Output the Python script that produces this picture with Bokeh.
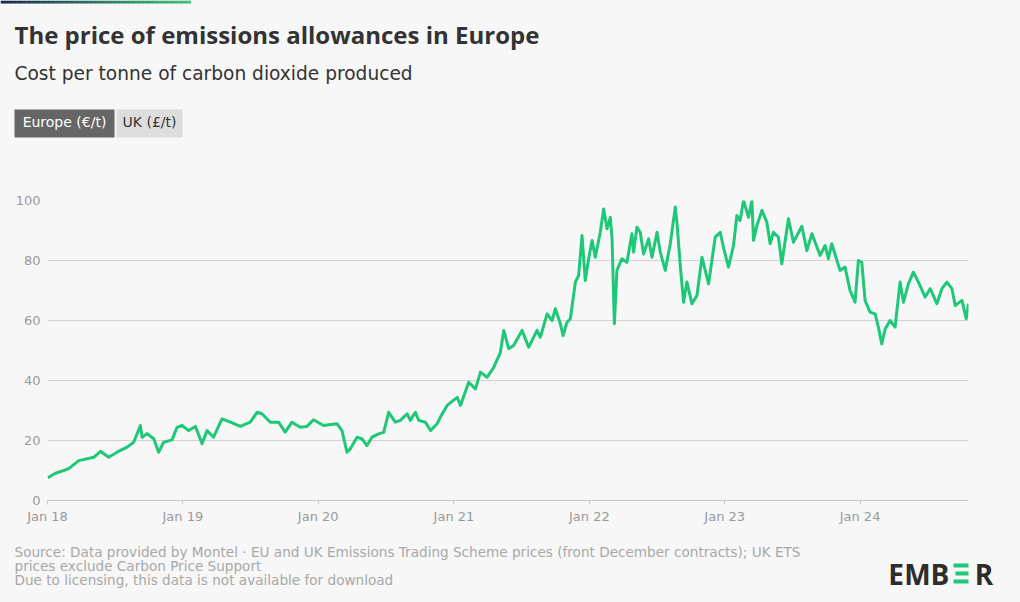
import datetime as dt
from bokeh.plotting import figure
from bokeh.layouts import column, row
from bokeh.models import ColumnDataSource, FixedTicker, Range1d
from bokeh.core.properties import value
from bokeh.embed import file_html
from bokeh.resources import INLINE

# ---------------- data ----------------
date_years = [
    2018.002, 2018.059, 2018.120, 2018.157, 2018.231, 2018.293, 2018.342, 2018.391, 2018.452, 2018.514,
    2018.588, 2018.637, 2018.686, 2018.699, 2018.736, 2018.785, 2018.821, 2018.858, 2018.920, 2018.957,
    2018.994, 2019.043, 2019.092, 2019.142, 2019.179, 2019.227, 2019.289, 2019.351, 2019.424, 2019.498,
    2019.548, 2019.584, 2019.646, 2019.707, 2019.756, 2019.806, 2019.867, 2019.917, 2019.965, 2020.039,
    2020.138, 2020.175, 2020.212, 2020.236, 2020.286, 2020.323, 2020.359, 2020.396, 2020.445, 2020.482,
    2020.519, 2020.568, 2020.605, 2020.655, 2020.679, 2020.716, 2020.740, 2020.790, 2020.827, 2020.876,
    2020.900, 2020.950, 2021.024, 2021.048, 2021.109, 2021.159, 2021.196, 2021.245, 2021.294, 2021.343,
    2021.368, 2021.404, 2021.441, 2021.503, 2021.552, 2021.614, 2021.638, 2021.688, 2021.725, 2021.749,
    2021.786, 2021.806, 2021.835, 2021.860, 2021.897, 2021.921, 2021.946, 2021.970, 2021.995, 2022.020,
    2022.044, 2022.081, 2022.106, 2022.131, 2022.155, 2022.168, 2022.185, 2022.204, 2022.241, 2022.278,
    2022.315, 2022.327, 2022.352, 2022.376, 2022.401, 2022.438, 2022.463, 2022.500, 2022.524, 2022.561,
    2022.598, 2022.635, 2022.647, 2022.672, 2022.696, 2022.721, 2022.758, 2022.795, 2022.832, 2022.881,
    2022.930, 2022.967, 2022.991, 2023.028, 2023.065, 2023.090, 2023.114, 2023.139, 2023.176, 2023.201,
    2023.213, 2023.238, 2023.275, 2023.311, 2023.336, 2023.360, 2023.397, 2023.422, 2023.471, 2023.508,
    2023.570, 2023.607, 2023.644, 2023.705, 2023.742, 2023.766, 2023.791, 2023.852, 2023.889, 2023.926,
    2023.963, 2023.988, 2024.013, 2024.037, 2024.074, 2024.111, 2024.135, 2024.160, 2024.185, 2024.221,
    2024.258, 2024.295, 2024.320, 2024.356, 2024.393, 2024.430, 2024.480, 2024.517, 2024.566, 2024.603,
    2024.640, 2024.677, 2024.701, 2024.751, 2024.782, 2024.799,
]
europe_prices = [
    7.6, 9.1, 10.0, 10.6, 13.3, 13.9, 14.4, 16.4, 14.4, 16.1,
    17.8, 19.4, 25.0, 21.1, 22.3, 20.6, 16.1, 19.4, 20.2, 24.4,
    25.0, 23.3, 24.7, 18.9, 23.3, 21.1, 27.2, 26.1, 24.7, 26.1,
    29.4, 28.9, 26.1, 26.1, 22.8, 26.1, 24.4, 24.7, 26.9, 25.0,
    25.6, 23.3, 16.1, 17.2, 21.1, 20.5, 18.3, 21.1, 22.2, 22.7,
    29.4, 26.1, 26.7, 28.9, 26.7, 29.4, 26.7, 26.1, 23.3, 25.6,
    27.8, 31.7, 34.4, 31.7, 39.4, 37.2, 42.8, 41.1, 44.4, 49.4,
    56.7, 50.6, 51.7, 56.7, 51.1, 56.7, 54.4, 62.2, 60.0, 63.9,
    58.9, 55.0, 59.4, 60.6, 72.8, 75.0, 88.3, 73.3, 80.6, 86.7,
    81.1, 89.4, 97.2, 90.6, 94.4, 87.2, 58.9, 76.7, 80.6, 79.4,
    88.9, 82.8, 91.1, 89.4, 82.2, 87.2, 81.1, 89.4, 82.8, 76.7,
    85.6, 97.8, 92.8, 78.3, 66.1, 72.8, 65.6, 68.3, 81.1, 72.2,
    87.8, 89.4, 84.4, 77.8, 85.0, 95.0, 93.3, 100.0, 94.4, 100.0,
    86.7, 91.7, 96.7, 92.8, 85.6, 89.4, 87.8, 78.9, 93.9, 86.1,
    91.4, 83.3, 88.9, 81.7, 85.0, 80.6, 85.6, 76.7, 77.8, 70.0,
    66.1, 80.0, 79.4, 66.7, 62.8, 62.2, 57.8, 52.2, 57.2, 60.0,
    57.8, 72.8, 66.1, 72.2, 76.1, 72.8, 67.8, 70.6, 65.6, 70.6,
    72.8, 70.6, 65.0, 66.7, 60.6, 65.6,
]
tick_years = [2018, 2019, 2020, 2021, 2022, 2023, 2024]
tick_labels = ["Jan 18", "Jan 19", "Jan 20", "Jan 21", "Jan 22", "Jan 23", "Jan 24"]
y_ticks = [0, 20, 40, 60, 80, 100]

title = "The price of emissions allowances in Europe"
subtitle = "Cost per tonne of carbon dioxide produced"
buttons = ["Europe (€/t)", "UK (£/t)"]
footer = [
    "Source: Data provided by Montel · EU and UK Emissions Trading Scheme prices (front December contracts); UK ETS",
    "prices exclude Carbon Price Support",
    "Due to licensing, this data is not available for download",
]
logo_letters = ["E", "M", "B", "R"]

assert len(date_years) == len(europe_prices)

# ---------------- helpers ----------------
EPOCH = dt.datetime(1970, 1, 1)


def year_to_dt(y):
    yr = int(y)
    a = dt.datetime(yr, 1, 1)
    b = dt.datetime(yr + 1, 1, 1)
    return a + (b - a) * (y - yr)


def to_ms(d):
    return (d - EPOCH).total_seconds() * 1000.0


dates = [year_to_dt(y) for y in date_years]
tick_ms = [to_ms(dt.datetime(y, 1, 1)) for y in tick_years]

BG = "#f7f7f7"
GREEN = "#1ec878"
GRID = "#d2d2d2"
TICK_TXT = "#9a9a9a"
FONT = "DejaVu Sans"

W = 1020
HEAD_H, CHART_H, FOOT_H = 160, 380, 62


def blank(height, y0):
    """A figure whose frame fills the canvas, in page pixels (y downwards)."""
    f = figure(width=W, height=height, output_backend="svg", toolbar_location=None,
               x_range=Range1d(0, W), y_range=Range1d(y0 + height, y0),
               min_border=0, min_border_left=0, min_border_right=0,
               min_border_top=0, min_border_bottom=0,
               background_fill_color=BG, border_fill_color=BG,
               outline_line_color=None)
    f.axis.visible = False
    f.grid.visible = False
    return f


def put_text(f, t, x, y, size, color, font=FONT, style="normal", align="left"):
    # y is the vertical centre of the text line
    f.text(x=[x], y=[y], text=[t], text_font=value(font),
           text_font_size=value(f"{size}px"), text_color=color,
           text_font_style=value(style), text_align=value(align),
           text_baseline=value("middle"))


# ---------------- header ----------------
head = blank(HEAD_H, 0)
c0 = (0x1b, 0x2b, 0x4e)
c1 = (0x3f, 0xc0, 0x78)
n = 40
lefts, rights, cols = [], [], []
for i in range(n):
    fr = i / (n - 1)
    cols.append("#%02x%02x%02x" % tuple(int(a + (b - a) * fr) for a, b in zip(c0, c1)))
    lefts.append(i * 190 / n)
    rights.append((i + 1) * 190 / n + 0.6)
head.quad(left=lefts, right=rights, top=[0] * n, bottom=[3] * n, fill_color=cols,
          line_color=None)

put_text(head, title, 14, 34, 24, "#333333", font="Open Sans", style="bold")
put_text(head, subtitle, 14, 72.5, 18.6, "#333333")

head.quad(left=[14, 116], right=[114, 182], top=[109, 109], bottom=[137, 137],
          fill_color=["#666666", "#dddddd"], line_color=None)
put_text(head, buttons[0], 64, 121.5, 14, "#ffffff", align="center")
put_text(head, buttons[1], 149, 121.5, 14, "#333333", align="center")

# ---------------- chart ----------------
FL, FR = 47, 968
FT, FB = 200 - HEAD_H, 500 - HEAD_H
p = figure(width=W, height=CHART_H, x_axis_type="datetime", output_backend="svg",
           toolbar_location=None,
           x_range=Range1d(to_ms(dt.datetime(2018, 1, 1)), to_ms(dates[-1])),
           y_range=Range1d(0, 100),
           min_border_left=FL, min_border_right=W - FR,
           min_border_top=FT, min_border_bottom=CHART_H - FB,
           background_fill_color=BG, border_fill_color=BG,
           outline_line_color=None)

src = ColumnDataSource(dict(date=dates, price=europe_prices))
p.line(x="date", y="price", source=src, line_color=GREEN, line_width=3,
       line_join="round")

p.xaxis.ticker = FixedTicker(ticks=tick_ms)
p.xaxis.major_label_overrides = {int(t): lab for t, lab in zip(tick_ms, tick_labels)}
p.xaxis.axis_line_color = "#c8c8c8"
p.xaxis.major_tick_line_color = "#c8c8c8"
p.xaxis.major_tick_out = 4
p.xaxis.major_tick_in = 0
p.xaxis.minor_tick_line_color = None
p.xaxis.major_label_text_color = TICK_TXT
p.xaxis.major_label_text_font = FONT
p.xaxis.major_label_text_font_size = "13px"
p.xaxis.major_label_standoff = 4

p.yaxis.ticker = FixedTicker(ticks=y_ticks)
p.yaxis.axis_line_color = None
p.yaxis.major_tick_line_color = None
p.yaxis.major_tick_out = 0
p.yaxis.major_tick_in = 0
p.yaxis.minor_tick_line_color = None
p.yaxis.major_label_text_color = TICK_TXT
p.yaxis.major_label_text_font = FONT
p.yaxis.major_label_text_font_size = "13px"
p.yaxis.major_label_standoff = 7

p.xgrid.grid_line_color = None
p.ygrid.ticker = FixedTicker(ticks=y_ticks)
p.ygrid.grid_line_color = GRID
p.ygrid.grid_line_width = 1

# ---------------- footer ----------------
Y0 = HEAD_H + CHART_H
foot = blank(FOOT_H, Y0)
for i, line in enumerate(footer):
    put_text(foot, line, 14, 551.7 + 14 * i, 13.6, "#a8a8a8")

logo_x = [895.5, 917, 939.5, 983.5]
for ch, lx in zip(logo_letters, logo_x):
    put_text(foot, ch, lx, 573, 28, "#2d2d2d", font="Open Sans", style="bold",
             align="center")
# green reversed "E" of the logo: three bars
foot.quad(left=[953, 955, 953], right=[968, 968, 968], top=[563, 571, 579],
          bottom=[567, 575, 583], fill_color=GREEN, line_color=None)

layout = column(head, row(p), foot, spacing=0)
html = file_html(layout, INLINE)
html = html.replace("<head>", "<head><style>html, body { background: #f7f7f7; }</style>", 1)
open("out.html", "w").write(html)
